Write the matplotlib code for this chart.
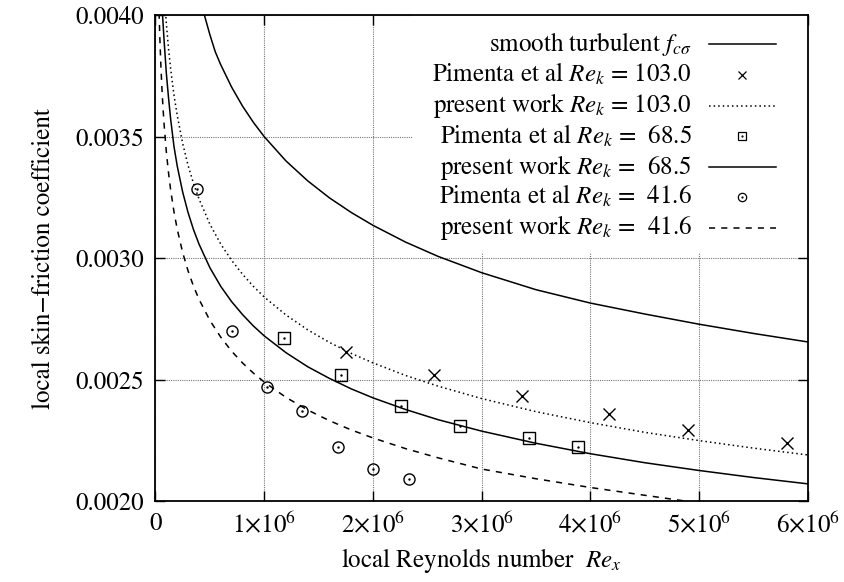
import numpy as np
import matplotlib
matplotlib.use('Agg')
import matplotlib.pyplot as plt
from matplotlib.patches import Rectangle
from matplotlib.lines import Line2D
from matplotlib.ticker import FormatStrFormatter

plt.rcParams['font.family'] = ['STIXGeneral', 'DejaVu Serif']
plt.rcParams['mathtext.fontset'] = 'stix'

# Reynolds numbers in units of 1e6, skin-friction coefficient
smooth_x = [0.45, 0.5, 0.55, 0.6, 0.7, 0.8, 0.9, 1.0, 1.2, 1.4, 1.6, 1.8, 2.0, 2.3, 2.6,
            3.0, 3.5, 4.0, 4.5, 5.0, 5.5, 6.0]
smooth_y = [0.00400, 0.00392, 0.003849, 0.003796, 0.003704, 0.003626, 0.003559, 0.00350, 0.00340,
            0.003318, 0.003248, 0.003188, 0.003135, 0.003066, 0.003007, 0.00294, 0.00287, 0.002815,
            0.00277, 0.002728, 0.00269, 0.002655]

pw103_x = [0.09, 0.10, 0.12, 0.14, 0.17, 0.2, 0.25, 0.3, 0.35, 0.4, 0.5, 0.6, 0.7, 0.8, 0.9, 1.0,
           1.2, 1.4, 1.6, 1.8, 2.0, 2.3, 2.6, 3.0, 3.5, 4.0, 4.5, 5.0, 5.5, 6.0]
pw103_y = [0.00403, 0.003965, 0.003862, 0.003777, 0.003672, 0.003587, 0.003472, 0.003381, 0.003307,
           0.003244, 0.00314, 0.003058, 0.002991, 0.002934, 0.002884, 0.00284, 0.002766, 0.002705,
           0.002653, 0.002608, 0.002569, 0.002517, 0.002473, 0.002422, 0.002368, 0.002323, 0.002283,
           0.002249, 0.002218, 0.00219]

pw685_x = [0.065, 0.08, 0.10, 0.12, 0.14, 0.17, 0.2, 0.25, 0.3, 0.35, 0.4, 0.5, 0.6, 0.7, 0.8, 0.9,
           1.0, 1.2, 1.4, 1.6, 1.8, 2.0, 2.3, 2.6, 3.0, 3.5, 4.0, 4.5, 5.0, 5.5, 6.0]
pw685_y = [0.00400, 0.00389, 0.00376, 0.00366, 0.00357, 0.00346, 0.003379, 0.003272, 0.003187,
           0.003117, 0.003058, 0.002961, 0.002884, 0.002821, 0.002768, 0.002721, 0.00268, 0.002611,
           0.002553, 0.002505, 0.002462, 0.002425, 0.002377, 0.002335, 0.002288, 0.002238, 0.002195,
           0.002158, 0.002126, 0.002097, 0.002071]

pw416_x = [0.033, 0.04, 0.05, 0.06, 0.07, 0.08, 0.10, 0.12, 0.14, 0.17, 0.2, 0.25, 0.3, 0.35, 0.4,
           0.5, 0.6, 0.7, 0.8, 0.9, 1.0, 1.2, 1.4, 1.6, 1.8, 2.0, 2.3, 2.6, 3.0, 3.5, 4.0, 4.5, 5.0]
pw416_y = [0.00401, 0.003908, 0.003787, 0.003692, 0.003613, 0.003546, 0.003437, 0.003351, 0.003279,
           0.003191, 0.003119, 0.003023, 0.002947, 0.002884, 0.002831, 0.002744, 0.002675, 0.002617,
           0.002569, 0.002527, 0.00249, 0.002427, 0.002375, 0.002331, 0.002293, 0.00226, 0.002216,
           0.002178, 0.002132, 0.002092, 0.002056, 0.002024, 0.001992]

pim103_x = [1.75, 2.56, 3.375, 4.17, 4.90, 5.81]
pim103_y = [0.002612, 0.002521, 0.002431, 0.00236, 0.002291, 0.00224]

pim685_x = [1.18, 1.71, 2.26, 2.80, 3.44, 3.89]
pim685_y = [0.002671, 0.002521, 0.002391, 0.002311, 0.002261, 0.002221]

pim416_x = [0.379, 0.70, 1.026, 1.35, 1.68, 2.0, 2.33]
pim416_y = [0.003283, 0.002702, 0.002471, 0.002372, 0.002222, 0.002131, 0.002091]

xticks = [0, 1, 2, 3, 4, 5, 6]
xticklabels = ['0'] + ['%d×10$^{6}$' % v for v in xticks[1:]]
yticks = [0.0020, 0.0025, 0.0030, 0.0035, 0.0040]

labels = [r'smooth turbulent $f_{c\sigma}$',
          r'Pimenta et al $Re_k$ = 103.0',
          r'present work $Re_k$ = 103.0',
          r'Pimenta et al $Re_k$ =  68.5',
          r'present work $Re_k$ =  68.5',
          r'Pimenta et al $Re_k$ =  41.6',
          r'present work $Re_k$ =  41.6']

fs = 18
fig = plt.figure(figsize=(8.45, 5.82), dpi=100)
ax = fig.add_axes([0.184, 0.139, 0.772, 0.835])

lw = 1.1
dotted = (0, (1, 2))
dashed = (0, (4, 4))
ax.plot(smooth_x, smooth_y, color='black', lw=lw, zorder=3)
ax.plot(pw103_x, pw103_y, color='black', lw=lw, ls=dotted, zorder=3)
ax.plot(pw685_x, pw685_y, color='black', lw=lw, zorder=3)
ax.plot(pw416_x, pw416_y, color='black', lw=lw, ls=dashed, zorder=3)

ax.plot(pim103_x, pim103_y, ls='none', marker='x', ms=8.5, mec='black', mew=1.0, zorder=4)
ax.plot(pim685_x, pim685_y, ls='none', marker='s', ms=8, mfc='none', mec='black', mew=1.0, zorder=4)
ax.plot(pim685_x, pim685_y, ls='none', marker='.', ms=1.5, color='black', zorder=4)
ax.plot(pim416_x, pim416_y, ls='none', marker='o', ms=8, mfc='none', mec='black', mew=1.0, zorder=4)
ax.plot(pim416_x, pim416_y, ls='none', marker='.', ms=1.5, color='black', zorder=4)

ax.set_xlim(0, 6)
ax.set_ylim(0.0020, 0.0040)
ax.set_xticks(xticks)
ax.set_xticklabels(xticklabels)
ax.set_yticks(yticks)
ax.yaxis.set_major_formatter(FormatStrFormatter('%.4f'))
ax.tick_params(direction='in', length=7, width=1, labelsize=fs, top=True, right=True, pad=8)
ax.grid(True, color='#777777', lw=0.8, ls=(0, (1, 1)), zorder=0)
ax.set_axisbelow(True)
for s in ax.spines.values():
    s.set_linewidth(1.3)

ax.set_xlabel(r'local Reynolds number  $Re_x$', fontsize=fs, labelpad=6)
ax.set_ylabel('local skin−friction coefficient', fontsize=fs, labelpad=14)

# gnuplot style key: opaque box, right-aligned text, sample on the right
ax.add_patch(Rectangle((0.395, 0.51), 0.605, 0.49, transform=ax.transAxes,
                       facecolor='white', edgecolor='none', zorder=1))
row_y = [0.940, 0.877, 0.814, 0.751, 0.687, 0.626, 0.562]
handles = [dict(ls='-'), dict(marker='x'), dict(ls=dotted), dict(marker='s'),
           dict(ls='-'), dict(marker='o'), dict(ls=dashed)]
for yy, lab, h in zip(row_y, labels, handles):
    ax.text(0.822, yy, lab, transform=ax.transAxes, ha='right', va='center', fontsize=fs, zorder=5)
    if 'marker' in h:
        ax.add_line(Line2D([0.8995], [yy], transform=ax.transAxes, marker=h['marker'], ls='none',
                           ms=6, mfc='none', mec='black', mew=0.9, zorder=5))
        if h['marker'] != 'x':
            ax.add_line(Line2D([0.8995], [yy], transform=ax.transAxes, marker='.', ms=1.2,
                               color='black', zorder=5))
    else:
        ax.add_line(Line2D([0.848, 0.951], [yy, yy], transform=ax.transAxes, ls=h['ls'],
                           color='black', lw=lw, zorder=5))

fig.savefig('out.png', dpi=100)
